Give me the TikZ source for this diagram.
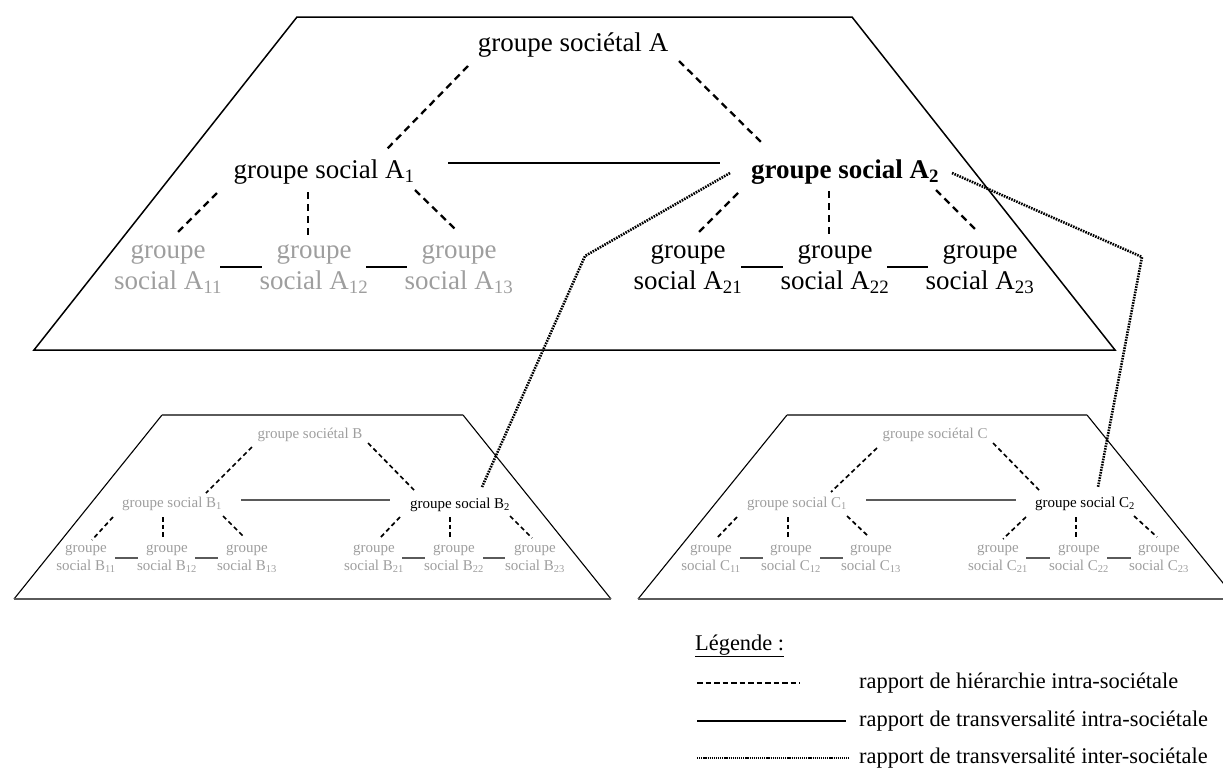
\documentclass[tikz,border=0pt]{standalone}
\usepackage{fontspec}
\setmainfont{Liberation Serif}
\definecolor{lgray}{RGB}{158,158,158}
\definecolor{dgray}{RGB}{90,90,90}
\newcommand\lnk[5]{\draw[#1] ([shift={(#3)}]#2.center) -- ([shift={(#5)}]#4.center);}
\begin{document}
\begin{tikzpicture}[x=1pt,y=-1pt,
  big/.style={inner sep=0pt, font=\fontsize{27}{31}\selectfont, align=center},
  small/.style={inner sep=0pt, font=\fontsize{15}{18}\selectfont, align=center},
  leg/.style={inner sep=0pt, font=\fontsize{22.4}{26}\selectfont, anchor=west},
  gr/.style={text=lgray},
  frameA/.style={line width=1.5pt, line join=miter},
  sideB/.style={line width=1.1pt},
  edgeB/.style={line width=1.8pt, draw=dgray},
  hierA/.style={line width=2.3pt, dash pattern=on 7pt off 5pt},
  hierB/.style={line width=1.7pt, dash pattern=on 4.5pt off 3.2pt},
  transA/.style={line width=1.6pt},
  transB/.style={line width=1.5pt, draw=dgray},
  inter/.style={line width=2.6pt, dash pattern=on 1.6pt off 1.1pt},
  legdash/.style={line width=2.2pt, dash pattern=on 5.5pt off 3pt},
  legsolid/.style={line width=1.5pt},
  legdot/.style={line width=1.9pt, dash pattern=on 1.2pt off 0.9pt}]
\useasboundingbox (0,0) rectangle (1223,774);
\clip (0,0) rectangle (1223,774);

% frames
\draw[frameA] (297,17) -- (852,17) -- (1115,350) -- (34,350) -- cycle;
\draw[sideB] (162,415) -- (14,599) (463,415) -- (611,599);
\draw[edgeB] (162,415) -- (463,415) (14,599) -- (611,599);
\draw[sideB] (787,415) -- (638,599) (1087,415) -- (1236,599);
\draw[edgeB] (787,415) -- (1087,415) (638,599) -- (1236,599);

% ---------- society A
\node[big] (A) at (573,45) {groupe sociétal A};
\node[big] (A1) at (324,172) {groupe social A\textsubscript{1}};
\node[big] (A2) at (845,172) {\bfseries groupe social A\textsubscript{2}};
\node[big,gr] (A11) at (168,269) {groupe\\social A\textsubscript{11}};
\node[big,gr] (A12) at (314,269) {groupe\\social A\textsubscript{12}};
\node[big,gr] (A13) at (459,269) {groupe\\social A\textsubscript{13}};
\node[big] (A21) at (688,269) {groupe\\social A\textsubscript{21}};
\node[big] (A22) at (835,269) {groupe\\social A\textsubscript{22}};
\node[big] (A23) at (980,269) {groupe\\social A\textsubscript{23}};

\lnk{hierA}{A}{-105,21}{A1}{62,-22}
\lnk{hierA}{A}{106,16}{A2}{-83,-29}
\lnk{transA}{A1}{124,-9}{A2}{-125,-9}
\lnk{hierA}{A1}{-107,21}{A11}{9,-36}
\lnk{hierA}{A1}{-16,20}{A12}{-6,-34}
\lnk{hierA}{A1}{91,18}{A13}{-4,-40}
\lnk{hierA}{A2}{-107,21}{A21}{10,-36}
\lnk{hierA}{A2}{-16,19}{A22}{-6,-34}
\lnk{hierA}{A2}{91,18}{A23}{-5,-40}
\lnk{transA}{A11}{52,-2}{A12}{-52,-2}
\lnk{transA}{A12}{52,-2}{A13}{-52,-2}
\lnk{transA}{A21}{53,-2}{A22}{-52,-2}
\lnk{transA}{A22}{52,-2}{A23}{-52,-2}

% ---------- society B
\node[small,gr] (B) at (310,435) {groupe sociétal B};
\node[small,gr] (B1) at (172,504) {groupe social B\textsubscript{1}};
\node[small] (B2) at (460,505) {groupe social B\textsubscript{2}};
\node[small,gr] (B11) at (86,559) {groupe\\social B\textsubscript{11}};
\node[small,gr] (B12) at (167,559) {groupe\\social B\textsubscript{12}};
\node[small,gr] (B13) at (247,559) {groupe\\social B\textsubscript{13}};
\node[small,gr] (B21) at (374,559) {groupe\\social B\textsubscript{21}};
\node[small,gr] (B22) at (454,559) {groupe\\social B\textsubscript{22}};
\node[small,gr] (B23) at (535,559) {groupe\\social B\textsubscript{23}};

\lnk{hierB}{B}{-58,12}{B1}{34,-11}
\lnk{hierB}{B}{58,8}{B2}{-46,-15}
\lnk{transB}{B1}{69,-4}{B2}{-70,-5}
\lnk{hierB}{B1}{-59,13}{B11}{6,-19}
\lnk{hierB}{B1}{-9,13}{B12}{-4,-19}
\lnk{hierB}{B1}{51,12}{B13}{-3,-22}
\lnk{hierB}{B2}{-60,12}{B21}{5,-20}
\lnk{hierB}{B2}{-10,12}{B22}{-4,-19}
\lnk{hierB}{B2}{50,11}{B23}{-3,-21}
\lnk{transB}{B11}{29,-1}{B12}{-29,-1}
\lnk{transB}{B12}{28,-1}{B13}{-29,-1}
\lnk{transB}{B21}{28,-1}{B22}{-29,-1}
\lnk{transB}{B22}{29,-1}{B23}{-30,-1}

% ---------- society C
\node[small,gr] (C) at (935,435) {groupe sociétal C};
\node[small,gr] (C1) at (797,504) {groupe social C\textsubscript{1}};
\node[small] (C2) at (1085,504) {groupe social C\textsubscript{2}};
\node[small,gr] (C11) at (711,559) {groupe\\social C\textsubscript{11}};
\node[small,gr] (C12) at (791,559) {groupe\\social C\textsubscript{12}};
\node[small,gr] (C13) at (871,559) {groupe\\social C\textsubscript{13}};
\node[small,gr] (C21) at (998,559) {groupe\\social C\textsubscript{21}};
\node[small,gr] (C22) at (1079,559) {groupe\\social C\textsubscript{22}};
\node[small,gr] (C23) at (1159,559) {groupe\\social C\textsubscript{23}};

\lnk{hierB}{C}{-58,13}{C1}{34,-12}
\lnk{hierB}{C}{58,8}{C2}{-46,-14}
\lnk{transB}{C1}{69,-4}{C2}{-69,-4}
\lnk{hierB}{C1}{-60,13}{C11}{5,-20}
\lnk{hierB}{C1}{-9,13}{C12}{-3,-19}
\lnk{hierB}{C1}{50,12}{C13}{-2,-22}
\lnk{hierB}{C2}{-59,13}{C21}{5,-20}
\lnk{hierB}{C2}{-9,13}{C22}{-3,-19}
\lnk{hierB}{C2}{49,12}{C23}{-2,-22}
\lnk{transB}{C11}{29,-1}{C12}{-28,-1}
\lnk{transB}{C12}{29,-1}{C13}{-28,-1}
\lnk{transB}{C21}{28,-1}{C22}{-29,-1}
\lnk{transB}{C22}{28,-1}{C23}{-28,-1}

% ---------- inter-societal links
\coordinate (bendB) at (585,256);
\coordinate (bendC) at (1142,257);
\draw[inter] ([shift={(-115,1)}]A2.center) -- (bendB) -- ([shift={(22,-18)}]B2.center);
\draw[inter] ([shift={(107,1)}]A2.center) -- (bendC) -- ([shift={(13,-17)}]C2.center);

% ---------- legend
\node[leg] (legT) at (695,646) {\underline{Légende :}};
\coordinate (l1a) at (697,683); \coordinate (l1b) at (800,683);
\coordinate (l2a) at (697,721); \coordinate (l2b) at (846,721);
\coordinate (l3a) at (697,758); \coordinate (l3b) at (849,758);
\draw[legdash] (l1a) -- (l1b);
\draw[legsolid] (l2a) -- (l2b);
\draw[legdot] (l3a) -- (l3b);
\node[leg] (leg1) at (859,683) {rapport de hiérarchie intra-sociétale};
\node[leg] (leg2) at (859,721) {rapport de transversalité intra-sociétale};
\node[leg] (leg3) at (859,758) {rapport de transversalité inter-sociétale};
\end{tikzpicture}
\end{document}
